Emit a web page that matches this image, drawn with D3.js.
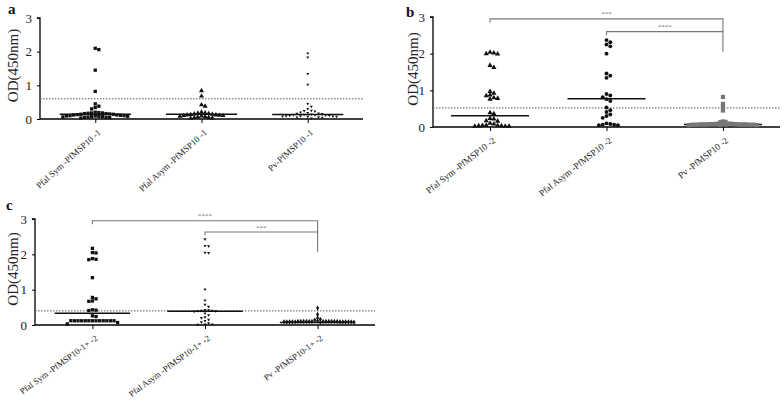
<!DOCTYPE html>
<html><head><meta charset="utf-8">
<script src="https://cdn.jsdelivr.net/npm/d3@7/dist/d3.min.js"></script>
<style>body{margin:0;background:#fff}svg{display:block}svg text{font-family:"Liberation Serif","Times New Roman",serif !important}</style>
</head><body><svg id="c" width="784" height="401"></svg>
<script>
// ---------- data ----------
const catsA = ["Pfal Sym -PfMSP10 -1", "Pfal Asym -PfMSP10 -1", "Pv-PfMSP10 -1"];
const catsB = ["Pfal Sym -PfMSP10 -2", "Pfal Asym -PfMSP10 -2", "Pv -PfMSP10 -2"];
const catsC = ["Pfal Sym -PfMSP10-1+ -2", "Pfal Asym -PfMSP10-1+ -2", "Pv -PfMSP10-1+ -2"];
const yTicks = [0, 1, 2, 3];

const aSym = [2.1, 2.06, 1.45, 0.82, 0.45, 0.38, 0.34, 0.3, 0.2, 0.19, 0.18, 0.18, 0.17, 0.16, 0.16, 0.15, 0.14, 0.14, 0.13, 0.12, 0.12, 0.11, 0.1, 0.1, 0.09, 0.09, 0.08, 0.08, 0.07, 0.07, 0.06, 0.06, 0.05, 0.05, 0.04, 0.03];
const aAsym = [0.84, 0.68, 0.42, 0.38, 0.2, 0.18, 0.17, 0.16, 0.15, 0.14, 0.13, 0.12, 0.12, 0.11, 0.1, 0.1, 0.09, 0.08, 0.07, 0.06, 0.05, 0.04, 0.03, 0.02];
const aPv = [1.95, 1.83, 1.34, 1.02, 0.45, 0.37, 0.3, 0.25, 0.24, 0.23, 0.2, 0.18, 0.17, 0.16, 0.15, 0.14, 0.13, 0.12, 0.12, 0.11, 0.1, 0.1, 0.09, 0.09, 0.08, 0.08, 0.07, 0.07, 0.06, 0.05, 0.04, 0.02];

const bSym = [2.04, 2.02, 2.0, 1.99, 1.68, 1.62, 0.97, 0.92, 0.87, 0.85, 0.8, 0.78, 0.76, 0.39, 0.36, 0.23, 0.22, 0.17, 0.16, 0.1, 0.08, 0.05, 0.04, 0.04, 0.03, 0.03, 0.02, 0.02, 0.02];
const bAsym = [2.37, 2.31, 2.25, 2.2, 2.0, 1.46, 1.4, 1.34, 0.9, 0.86, 0.81, 0.76, 0.71, 0.53, 0.46, 0.41, 0.34, 0.3, 0.25, 0.1, 0.08, 0.06, 0.06, 0.05, 0.05];
const bPv = [0.82, 0.63, 0.55, 0.45, 0.15, 0.14, 0.13, 0.09, 0.09, 0.09, 0.08, 0.08, 0.08, 0.08, 0.08, 0.08, 0.07, 0.07, 0.07, 0.07, 0.07, 0.07, 0.07, 0.07, 0.07, 0.06, 0.06, 0.06, 0.06, 0.06, 0.06, 0.06, 0.05, 0.05];

const cSym = [2.17, 2.05, 2.04, 1.88, 1.86, 1.85, 1.34, 0.78, 0.74, 0.68, 0.67, 0.43, 0.42, 0.41, 0.26, 0.24, 0.12, 0.12, 0.12, 0.12, 0.12, 0.12, 0.12, 0.12, 0.12, 0.12, 0.12, 0.12, 0.12, 0.07, 0.03];
const cAsym = [2.43, 2.24, 2.23, 2.05, 2.04, 1.01, 0.7, 0.58, 0.52, 0.43, 0.42, 0.41, 0.41, 0.4, 0.39, 0.38, 0.33, 0.28, 0.22, 0.2, 0.15, 0.12, 0.08, 0.05, 0.02, 0.02, 0.01];
const cPv = [0.48, 0.3, 0.2, 0.16, 0.14, 0.12, 0.1, 0.1, 0.1, 0.1, 0.1, 0.1, 0.1, 0.1, 0.1, 0.1, 0.1, 0.1, 0.09, 0.09, 0.09, 0.09, 0.09, 0.09, 0.09, 0.09, 0.09, 0.09, 0.08, 0.08];

const mediansA = [0.14, 0.14, 0.13];
const mediansB = [0.31, 0.77, 0.07];
const mediansC = [0.33, 0.39, 0.07];
const cutoffs = {a: 0.6, b: 0.52, c: 0.4};
const sigB = [{from: 0, to: 2, level: 2.95, end: 2.6, label: "***"}, {from: 1, to: 2, level: 2.6, end: 2.05, label: "****"}];
const sigC = [{from: 0, to: 2, level: 2.95, end: 2.63, label: "****"}, {from: 1, to: 2, level: 2.63, end: 2.07, label: "***"}];

// ---------- drawing ----------
const FONT = "Liberation Serif, Times New Roman, serif";
const svg = d3.select("#c");
const triDown = {draw(ctx, size) { const s = Math.sqrt(size / (3 * Math.sqrt(3) / 4)); const h = s * Math.sqrt(3) / 2;
  ctx.moveTo(-s / 2, -h / 3); ctx.lineTo(s / 2, -h / 3); ctx.lineTo(0, 2 * h / 3); ctx.closePath(); }};

function swarm(values, cx, y, d) {
  const placed = [];
  const sorted = values.slice().sort((a, b) => b - a);
  sorted.forEach(v => {
    const py = y(v);
    for (let k = 0; k < 200; k++) {
      const off = (k % 2 === 1 ? 1 : -1) * Math.ceil(k / 2) * d;
      const px = cx + off;
      if (!placed.some(p => Math.abs(p.x - px) < d - 0.01 && Math.abs(p.y - py) < d * 0.95)) { placed.push({x: px, y: py, v}); break; }
    }
  });
  return placed;
}

function panel(cfg) {
  const g = svg.append("g").attr("font-family", FONT);
  const y = d3.scaleLinear().domain([0, 3]).range([cfg.y0, cfg.y3]);
  const x = d3.scalePoint().domain(cfg.cats).range([cfg.x0, cfg.x1]).padding(cfg.pad);
  const step = x.step();
  // y axis
  const ya = g.append("g").attr("transform", `translate(${cfg.x0},0)`)
    .call(d3.axisLeft(y).tickValues(yTicks).tickFormat(d3.format("d")).tickSize(3).tickPadding(5));
  ya.attr("font-family", FONT);
  ya.select(".domain").attr("stroke-width", 1.3).attr("d", `M-3,${cfg.y3}H0V${cfg.y0}`);
  ya.selectAll("text").attr("font-size", 13).attr("font-family", FONT).attr("fill", "#222");
  // x axis
  const xa = g.append("g").attr("transform", `translate(0,${cfg.y0})`)
    .call(d3.axisBottom(x).tickSize(4).tickFormat(""));
  xa.select(".domain").attr("stroke-width", 1.5).attr("d", `M${cfg.x0},0H${cfg.x1}`);
  cfg.cats.forEach(c => {
    g.append("text").attr("transform", `translate(${x(c) + 4},${cfg.y0 + 12}) rotate(${cfg.rot})`)
      .attr("text-anchor", "end").attr("dy", "0.35em").attr("font-family", FONT)
      .attr("font-size", cfg.lfs).attr("fill", "#222").text(c);
  });
  // cutoff
  g.append("line").attr("x1", cfg.x0).attr("x2", cfg.x1).attr("y1", y(cfg.cut)).attr("y2", y(cfg.cut))
    .attr("stroke", "#555").attr("stroke-width", 1).attr("stroke-dasharray", "1.5,1.5");
  // medians
  cfg.cats.forEach((c, i) => {
    g.append("line").attr("x1", x(c) - step * 0.335).attr("x2", x(c) + step * 0.335)
      .attr("y1", y(cfg.med[i])).attr("y2", y(cfg.med[i])).attr("stroke", "#111").attr("stroke-width", 1.5);
  });
  // points
  cfg.series.forEach((s, i) => {
    const pts = swarm(s.values, x(cfg.cats[i]), y, s.d);
    g.append("g").selectAll("path").data(pts).join("path")
      .attr("transform", p => `translate(${p.x},${p.y})`)
      .attr("d", d3.symbol().type(s.type).size(s.size)).attr("fill", s.color);
  });
  // significance brackets
  (cfg.sig || []).forEach(b => {
    const xa_ = x(cfg.cats[b.from]), xb = x(cfg.cats[b.to]);
    g.append("path").attr("d", `M${xa_},${y(b.level - 0.1)}V${y(b.level)}H${xb}V${y(b.end)}`)
      .attr("fill", "none").attr("stroke", "#777").attr("stroke-width", 1.1);
    g.append("text").attr("x", (xa_ + xb) / 2).attr("y", y(b.level) - 2.5).attr("text-anchor", "middle")
      .attr("font-family", FONT).attr("font-size", 7).attr("fill", "#777").text(b.label);
  });
  // labels
  g.append("text").attr("x", cfg.lx).attr("y", cfg.ly).attr("font-family", FONT).attr("font-size", 15)
    .attr("font-weight", "bold").attr("fill", "#111").text(cfg.letter);
  g.append("text").attr("transform", `translate(${cfg.yx},${(cfg.y0 + cfg.y3) / 2 - 3}) rotate(-90)`)
    .attr("text-anchor", "middle").attr("dominant-baseline", "central").attr("font-family", FONT)
    .attr("font-size", 15).attr("fill", "#222").text("OD(450nm)");
}

panel({cats: catsA, x0: 40, x1: 363, y0: 119, y3: 18, pad: 0.52, cut: cutoffs.a, med: mediansA, lfs: 9, rot: -42,
  letter: "a", lx: 8, ly: 14, yx: 13,
  series: [{values: aSym, type: d3.symbolSquare, size: 11, d: 3.6, color: "#111"},
           {values: aAsym, type: d3.symbolTriangle, size: 11, d: 3.6, color: "#111"},
           {values: aPv, type: triDown, size: 11, d: 3.6, color: "#111"}]});
panel({cats: catsB, x0: 433, x1: 780, y0: 127, y3: 17, pad: 0.49, cut: cutoffs.b, med: mediansB, lfs: 9.2, rot: -38, sig: sigB,
  letter: "b", lx: 406, ly: 17, yx: 413,
  series: [{values: bSym, type: d3.symbolTriangle, size: 12, d: 3.8, color: "#111"},
           {values: bAsym, type: d3.symbolCircle, size: 12, d: 3.8, color: "#111"},
           {values: bPv, type: d3.symbolSquare, size: 18, d: 2.6, color: "#777"}]});
panel({cats: catsC, x0: 35, x1: 375, y0: 325, y3: 219, pad: 0.51, cut: cutoffs.c, med: mediansC, lfs: 8.8, rot: -36, sig: sigC,
  letter: "c", lx: 6, ly: 210, yx: 13,
  series: [{values: cSym, type: d3.symbolSquare, size: 11, d: 3.6, color: "#111"},
           {values: cAsym, type: triDown, size: 12, d: 3.6, color: "#111"},
           {values: cPv, type: d3.symbolDiamond, size: 8, d: 2.8, color: "#111"}]});
</script></body></html>
